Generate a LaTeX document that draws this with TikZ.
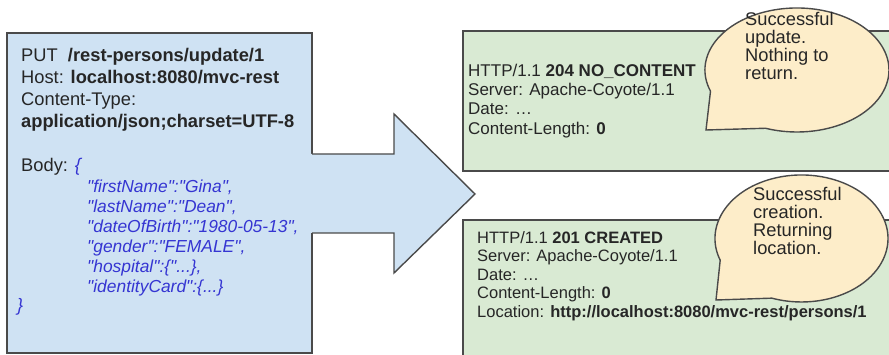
\documentclass[tikz,border=0pt]{standalone}
\usepackage{fontspec}
\setmainfont{Liberation Sans}
\definecolor{reqfill}{HTML}{CFE2F3}
\definecolor{resfill}{HTML}{D9EAD3}
\definecolor{notefill}{HTML}{FDEDC9}
\definecolor{edge}{HTML}{4A4A4A}
\definecolor{jsonblue}{HTML}{3535D2}
\definecolor{ink}{HTML}{262626}
\newcommand{\q}{\textquotedbl}
\begin{document}
\begin{tikzpicture}[x=1pt, y=-1pt, line join=miter,
		panel/.style={draw=edge, line width=1.4pt},
		txt/.style={anchor=north west, inner sep=0pt, align=left, text=ink}]
		\useasboundingbox (0,0) rectangle (889,355);
		\clip (0,0) rectangle (889,355);
		% request and arrow
		\draw[panel, fill=reqfill] (7,33) rectangle (312,353);
		\fill[reqfill] (309,154) -- (394,154) -- (394,114) -- (475,194) -- (394,273) -- (394,233) -- (309,233) -- cycle;
		\draw[panel] (312,154) -- (394,154) -- (394,114) -- (475,194) -- (394,273) -- (394,233) -- (312,233);
		\node[txt, font=\fontsize{18.3}{22}\selectfont] (req) at (21,48.2)
			{PUT\ \ \textbf{/rest-persons/update/1}\\
			 Host: \textbf{localhost:8080/mvc-rest}\\
			 Content-Type:\\
			 \textbf{application/json;charset=UTF-8}\\[22pt]
			 Body: \textcolor{jsonblue}{\itshape\{}};
		\node[txt, text=jsonblue, font=\itshape\fontsize{17.4}{20}\selectfont] (body) at (87,179.5)
			{\q firstName\q:\q Gina\q,\\
			 \q lastName\q:\q Dean\q,\\
			 \q dateOfBirth\q:\q 1980-05-13\q,\\
			 \q gender\q:\q FEMALE\q,\\
			 \q hospital\q:\{\q...\},\\
			 \q identityCard\q:\{...\}};
		\node[anchor=base west, inner sep=0pt, text=jsonblue, font=\itshape\fontsize{18}{22}\selectfont] (close) at (17,312) {\}};
		% responses
		\draw[panel, fill=resfill] (463,31) rectangle (900,171);
		\draw[panel, fill=resfill] (463,220) rectangle (900,370);
		\node[txt, font=\fontsize{17}{19.3}\selectfont] (noContent) at (468,63.6)
			{HTTP/1.1 \textbf{204 NO\_CONTENT}\\
			 Server: Apache-Coyote/1.1\\
			 Date: \dots\\
			 Content-Length: \textbf{0}};
		\node[txt, font=\fontsize{16.5}{18.5}\selectfont] (created) at (477,230.9)
			{HTTP/1.1 \textbf{201 CREATED}\\
			 Server: Apache-Coyote/1.1\\
			 Date: \dots\\
			 Content-Length: \textbf{0}\\
			 Location: \textbf{http://localhost:8080/mvc-rest/persons/1}};
		% callouts
		\draw[panel, fill=notefill] (706,130) -- (710.5,91.2) arc[start angle=160, end angle=470, x radius=92, y radius=62] -- cycle;
		\draw[panel, fill=notefill] (716,300) -- (720.2,260.2) arc[start angle=160, end angle=470, x radius=86.5, y radius=63.5] -- cycle;
		\node[txt, font=\fontsize{18.3}{18}\selectfont] (updNote) at (745,12.5)
			{Successful\\ update.\\ Nothing to\\ return.};
		\node[txt, font=\fontsize{18.3}{18}\selectfont] (newNote) at (753,187.5)
			{Successful\\ creation.\\ Returning\\ location.};
	\end{tikzpicture}
\end{document}
